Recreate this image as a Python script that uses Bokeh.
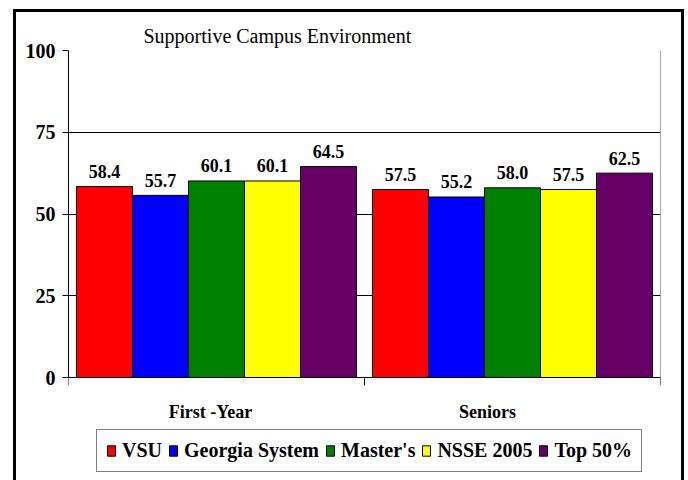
from bokeh.plotting import figure
from bokeh.models import Range1d, FixedTicker, Legend, LegendItem, LinearAxis
from bokeh.core.properties import value
from bokeh.embed import file_html
from bokeh.resources import INLINE

title = "Supportive Campus Environment"
groups = ["First -Year", "Seniors"]
series = ["VSU", "Georgia System", "Master's", "NSSE 2005", "Top 50%"]
colors = ["#FF0000", "#0000FF", "#008000", "#FFFF00", "#660066"]
vsu = [58.4, 57.5]
georgia = [55.7, 55.2]
masters = [60.1, 58.0]
nsse = [60.1, 57.5]
top50 = [64.5, 62.5]
values = [vsu, georgia, masters, nsse, top50]
y_ticks = [0, 25, 50, 75, 100]

FONT = "Liberation Serif"
n_groups = len(groups)
n_series = len(series)
group_fill = 0.946
bw = group_fill / n_series

# layout (pixels)
plot_px = 327          # height of the 0..100 value band
extra_below_px = 99    # room below zero for category labels and legend
y_max = y_ticks[-1]
y_min = -extra_below_px * y_max / plot_px

p = figure(frame_width=592, frame_height=plot_px + extra_below_px,
           x_range=Range1d(0, n_groups), y_range=Range1d(y_min, y_max),
           output_backend="svg", toolbar_location=None,
           min_border_left=68, min_border_right=28,
           min_border_top=50, min_border_bottom=4)

p.styles = {
    "background-image": "linear-gradient(#000,#000), linear-gradient(#000,#000), linear-gradient(#000,#000)",
    "background-size": "3px 480px, 671px 3px, 3px 480px",
    "background-position": "13px 9px, 13px 9px, 681px 9px",
    "background-repeat": "no-repeat",
}
p.border_fill_alpha = 0
p.background_fill_color = "white"
p.outline_line_color = None

renderers = []
for i, (name, vals, col) in enumerate(zip(series, values, colors)):
    xs = [g + 0.5 + (i - (n_series - 1) / 2) * bw for g in range(n_groups)]
    r = p.vbar(x=xs, top=vals, width=bw, fill_color=col, line_color="black", line_width=1)
    renderers.append(r)
    p.text(x=xs, y=vals, text=[f"{v:.1f}" for v in vals],
           text_align="center", text_baseline="alphabetic", y_offset=-15,
           text_font=value(FONT), text_font_style="bold", text_font_size="18px",
           text_color="black")

# title
p.title.text = title
p.title.text_font = FONT
p.title.text_font_style = "normal"
p.title.text_font_size = "20px"
p.title.text_color = "black"
p.title.align = "left"
p.title.offset = 75
p.title.standoff = 7

# y axis (left), limited to 0..100
p.yaxis.ticker = FixedTicker(ticks=y_ticks)
p.yaxis.bounds = (y_ticks[0], y_ticks[-1])
p.yaxis.major_tick_in = 0
p.yaxis.major_tick_out = 6
p.yaxis.minor_tick_line_color = None
p.yaxis.major_label_text_font = FONT
p.yaxis.major_label_text_font_style = "bold"
p.yaxis.major_label_text_font_size = "20px"
p.yaxis.major_label_text_color = "black"
p.yaxis.major_label_standoff = 7
p.yaxis.axis_line_color = "black"
p.yaxis.major_tick_line_color = "black"

# right border of the plot area
right_axis = LinearAxis(fixed_location=n_groups, bounds=(y_ticks[0], y_ticks[-1]),
                        ticker=FixedTicker(ticks=[]), axis_line_color="#555555",
                        major_tick_line_color=None, minor_tick_line_color=None)
p.add_layout(right_axis, "right")

# x axis at zero: labels near group centres, ticks at group boundaries
label_shift_px = [-6, -25]
unit_px = 296
label_ticks = [g + 0.5 + s / unit_px for g, s in zip(range(n_groups), label_shift_px)]
p.xaxis.fixed_location = 0
p.xaxis.ticker = FixedTicker(ticks=label_ticks, minor_ticks=list(range(n_groups + 1)))
p.xaxis.major_label_overrides = {t: g for t, g in zip(label_ticks, groups)}
p.xaxis.major_tick_line_color = None
p.xaxis.major_tick_out = 0
p.xaxis.major_tick_in = 0
p.xaxis.minor_tick_in = 0
p.xaxis.minor_tick_out = 8
p.xaxis.minor_tick_line_color = "black"
p.xaxis.axis_line_color = "black"
p.xaxis.major_label_text_font = FONT
p.xaxis.major_label_text_font_style = "bold"
p.xaxis.major_label_text_font_size = "18px"
p.xaxis.major_label_text_color = "black"
p.xaxis.major_label_standoff = 16

p.xgrid.grid_line_color = None
p.ygrid.ticker = FixedTicker(ticks=y_ticks[1:])
p.ygrid.grid_line_color = "black"
p.ygrid.grid_line_width = 1

legend = Legend(items=[LegendItem(label=s, renderers=[r]) for s, r in zip(series, renderers)],
                orientation="horizontal", location=(28, 4))
legend.glyph_width = 10
legend.glyph_height = 13
legend.label_standoff = 6
legend.spacing = 6
legend.padding = 9
legend.margin = 0
legend.label_text_font = FONT
legend.label_text_font_style = "bold"
legend.label_text_font_size = "20px"
legend.label_text_color = "black"
legend.border_line_color = "black"
legend.border_line_width = 1
legend.background_fill_color = "white"
legend.background_fill_alpha = 1
p.add_layout(legend)

open("out.html", "w").write(file_html(p, INLINE))
